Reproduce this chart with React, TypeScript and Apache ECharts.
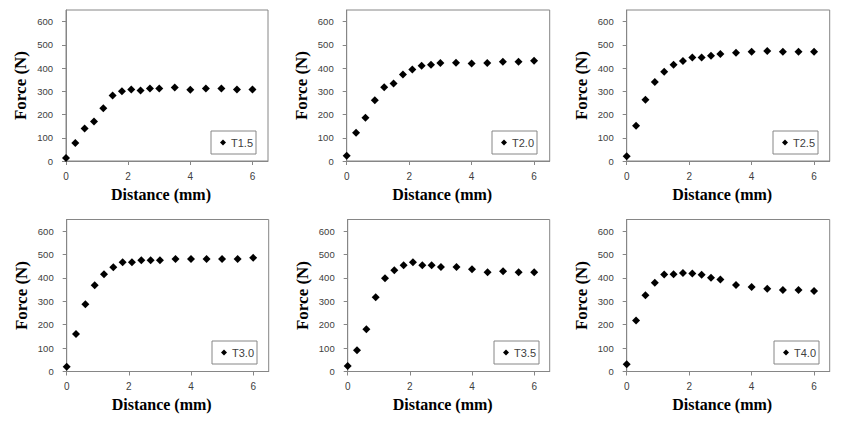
import React, { useEffect, useRef } from "react";
import * as echarts from "echarts";

const distance = [0, 0.3, 0.6, 0.9, 1.2, 1.5, 1.8, 2.1, 2.4, 2.7, 3.0, 3.5, 4.0, 4.5, 5.0, 5.5, 6.0];

const seriesNames = ["T1.5", "T2.0", "T2.5", "T3.0", "T3.5", "T4.0"];

const forceT15 = [13, 77, 140, 170, 227, 282, 300, 308, 303, 312, 312, 316, 307, 312, 312, 308, 308];
const forceT20 = [23, 122, 186, 261, 318, 334, 372, 394, 410, 414, 422, 423, 420, 422, 427, 427, 432];
const forceT25 = [20, 152, 264, 340, 384, 414, 431, 446, 446, 453, 461, 466, 470, 474, 470, 470, 470];
const forceT30 = [20, 160, 288, 369, 416, 446, 467, 467, 476, 476, 476, 481, 481, 481, 481, 481, 486];
const forceT35 = [23, 91, 181, 318, 399, 433, 454, 467, 454, 454, 447, 447, 437, 424, 429, 424, 424];
const forceT40 = [31, 218, 326, 379, 415, 416, 421, 419, 414, 401, 393, 370, 361, 354, 349, 349, 344];

const forces = [forceT15, forceT20, forceT25, forceT30, forceT35, forceT40];

const xTicks = [0, 2, 4, 6];
const yTicks = [0, 100, 200, 300, 400, 500, 600];

const xAxisTitle = "Distance (mm)";
const yAxisTitle = "Force (N)";

// layout of the six panels (px)
const panels = [
  { left: 66, top: 10, width: 202, height: 151, legendLeft: 211, legendTop: 131 },
  { left: 346.7, top: 10, width: 203, height: 151, legendLeft: 492, legendTop: 131 },
  { left: 626.7, top: 10, width: 203, height: 151, legendLeft: 773, legendTop: 131 },
  { left: 66.7, top: 219.5, width: 202, height: 152, legendLeft: 212, legendTop: 341 },
  { left: 347.7, top: 219.5, width: 202, height: 152, legendLeft: 494, legendTop: 341 },
  { left: 626.7, top: 219.5, width: 203, height: 152, legendLeft: 774, legendTop: 341 },
];

const gray = "#868686";
const labelColor = "#404040";

export default function App() {
  const ref = useRef<HTMLDivElement>(null);

  useEffect(() => {
    if (!ref.current) return;
    const chart = echarts.init(ref.current, undefined, { renderer: "svg" });

    const grid = panels.map((p) => ({
      left: p.left,
      top: p.top,
      width: p.width,
      height: p.height,
      show: true,
      borderColor: gray,
      borderWidth: 1,
      backgroundColor: "transparent",
    }));

    const xAxis = panels.map((_, i) => ({
      type: "value",
      gridIndex: i,
      min: 0,
      max: 6.5,
      interval: 2,
      name: xAxisTitle,
      nameLocation: "middle",
      nameGap: 25,
      nameTextStyle: {
        fontFamily: "Liberation Serif",
        fontWeight: "bold",
        fontSize: 16,
        color: "#000",
        padding: [0, 12, 0, 0],
      },
      axisLine: { show: true, lineStyle: { color: gray, width: 1 } },
      axisTick: { show: true, length: 4, customValues: xTicks, lineStyle: { color: gray } },
      axisLabel: {
        customValues: xTicks,
        margin: 10,
        fontFamily: "Liberation Sans",
        fontSize: 10,
        color: labelColor,
      },
      splitLine: { show: false },
    }));

    const yAxis = panels.map((_, i) => ({
      type: "value",
      gridIndex: i,
      min: 0,
      max: 650,
      interval: 100,
      name: yAxisTitle,
      nameLocation: "middle",
      nameRotate: 90,
      nameGap: 37,
      nameTextStyle: {
        fontFamily: "Liberation Serif",
        fontWeight: "bold",
        fontSize: 17,
        color: "#000",
      },
      axisLine: { show: true, lineStyle: { color: gray, width: 1 } },
      axisTick: { show: true, length: 4, customValues: yTicks, lineStyle: { color: gray } },
      axisLabel: {
        customValues: yTicks,
        margin: 13,
        fontFamily: "Liberation Sans",
        fontSize: 9.5,
        color: labelColor,
      },
      splitLine: { show: false },
    }));

    const series = seriesNames.map((name, i) => ({
      type: "scatter",
      name,
      xAxisIndex: i,
      yAxisIndex: i,
      symbol: "diamond",
      symbolSize: 8,
      itemStyle: { color: "#000", opacity: 1 },
      data: distance.map((d, k) => [d, forces[i][k]]),
    }));

    const legend = panels.map((p, i) => ({
      data: [seriesNames[i]],
      left: p.legendLeft,
      top: p.legendTop,
      orient: "horizontal",
      padding: [6, 3, 6, 9],
      itemWidth: 6,
      itemHeight: 6,
      icon: "diamond",
      borderColor: gray,
      borderWidth: 1,
      selectedMode: false,
      itemStyle: { color: "#000", opacity: 1 },
      textStyle: {
        fontFamily: "Liberation Sans",
        fontSize: 11,
        color: labelColor,
      },
    }));

    chart.setOption({
      animation: false,
      backgroundColor: "#fff",
      grid,
      xAxis,
      yAxis,
      series,
      legend,
    });

    return () => chart.dispose();
  }, []);

  return (
    <div
      ref={ref}
      style={{ position: "absolute", left: 0, top: 0, width: 845, height: 423 }}
    />
  );
}
